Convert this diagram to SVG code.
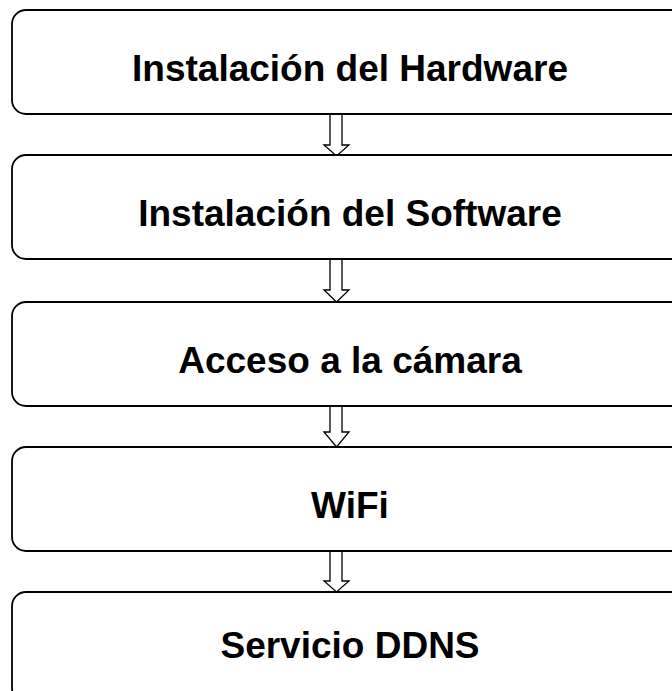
<svg xmlns="http://www.w3.org/2000/svg" width="672" height="691" viewBox="0 0 672 691">
<style>
.box{fill:#fff;stroke:#000;stroke-width:1.8}
.lbl{font-family:"Liberation Sans",Arial,sans-serif;font-weight:bold;font-size:37px;fill:#000;text-anchor:middle}
.arr{fill:#fff;stroke:#000;stroke-width:1.3;stroke-linejoin:miter}
</style>
<rect width="672" height="691" fill="#fff"/>
<g id="connectors">
<path class="arr" d="M330,114 V145 H324 L336.5,156 L349,145 H342 V114 Z"/>
<path class="arr" d="M330,259 V290 H324 L336.5,302 L349,290 H342 V259 Z"/>
<path class="arr" d="M330,406 V432 H324 L336.5,447 L349,432 H342 V406 Z"/>
<path class="arr" d="M330,551 V581 H324 L336.5,592 L349,581 H342 V551 Z"/>
</g>
<g id="n1"><rect class="box" x="12" y="10" width="690" height="104" rx="14"/><text class="lbl" x="350" y="81">Instalación del Hardware</text></g>
<g id="n2"><rect class="box" x="12" y="155" width="690" height="104" rx="14"/><text class="lbl" x="350" y="226">Instalación del Software</text></g>
<g id="n3"><rect class="box" x="12" y="302" width="690" height="104" rx="14"/><text class="lbl" x="350" y="373">Acceso a la cámara</text></g>
<g id="n4"><rect class="box" x="12" y="447" width="690" height="104" rx="14"/><text class="lbl" x="350" y="518">WiFi</text></g>
<g id="n5"><rect class="box" x="12" y="592" width="690" height="110" rx="14"/><text class="lbl" x="350" y="658">Servicio DDNS</text></g>
</svg>
